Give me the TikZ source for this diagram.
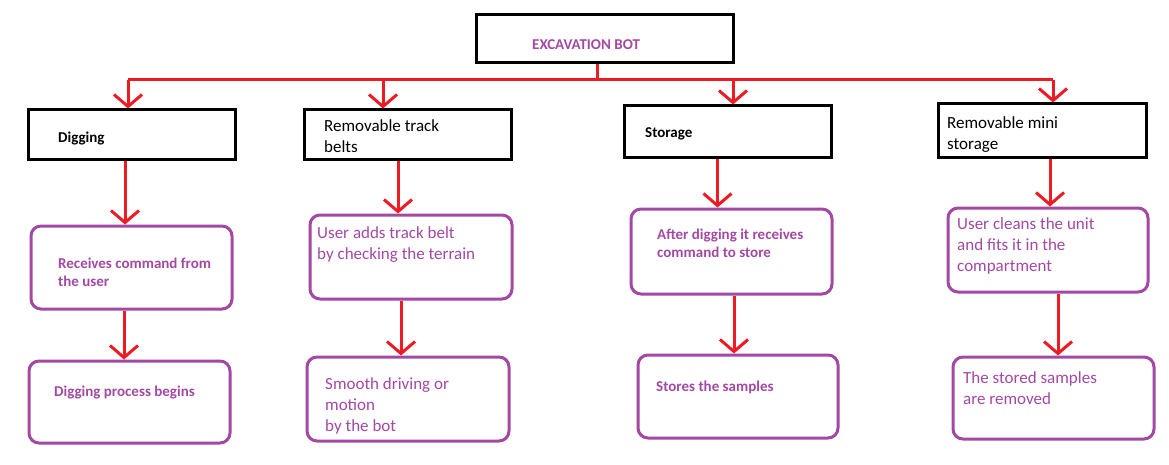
\documentclass[tikz,border=0pt]{standalone}
\usepackage{fontspec}
\setmainfont{Carlito}
\usetikzlibrary{arrows.meta}
\definecolor{pred}{HTML}{ED1C24}
\definecolor{ppur}{HTML}{A349A4}
\newcommand\firstl{\rule{0pt}{14pt}}
\begin{document}
\begin{tikzpicture}[x=1pt,y=-1pt,
  bbox/.style={draw=black, line width=3pt, inner sep=0pt},
  pbox/.style={draw=ppur, line width=3pt, rounded corners=10pt, inner sep=0pt},
  redl/.style={draw=pred, line width=3pt},
  arr/.style={draw=pred, line width=3pt, -{Straight Barb[length=12pt,width=28pt]}},
  tb/.style={anchor=north west, inner sep=0pt, align=left, font=\bfseries\fontsize{15}{18.5}\selectfont},
  tr/.style={anchor=north west, inner sep=0pt, align=left, font=\fontsize{17}{21}\selectfont},
]
\useasboundingbox (0,0) rectangle (1169,465);
\fill[white] (0,0) rectangle (1169,465);

% boxes
\node[bbox, minimum width=257pt, minimum height=48pt] (top) at (604.5,39) {};
\node[bbox, minimum width=207pt, minimum height=50pt] (dig) at (131.5,135) {};
\node[bbox, minimum width=207pt, minimum height=50pt] (trk) at (407.5,135) {};
\node[bbox, minimum width=207pt, minimum height=52pt] (sto) at (727.5,132) {};
\node[bbox, minimum width=208pt, minimum height=54pt] (mini) at (1042,131) {};

\node[pbox, minimum width=201pt, minimum height=83pt] (rc) at (131.5,267.5) {};
\node[pbox, minimum width=202pt, minimum height=84pt] (ua) at (411,257) {};
\node[pbox, minimum width=201pt, minimum height=85pt] (ad) at (731.5,251.5) {};
\node[pbox, minimum width=200pt, minimum height=84pt] (uc) at (1048,250) {};

\node[pbox, minimum width=201pt, minimum height=82pt] (dp) at (129.5,402) {};
\node[pbox, minimum width=202pt, minimum height=84pt] (sd) at (408,399) {};
\node[pbox, minimum width=200pt, minimum height=83pt] (ss) at (738,396.5) {};
\node[pbox, minimum width=201pt, minimum height=82pt] (sr) at (1053.5,398) {};

% texts (y = first baseline - 14)
\node[tb, text=ppur] (ttop) at (532,35) {\firstl EXCAVATION BOT};
\node[tb] (tdig) at (58,128) {\firstl Digging};
\node[tr] (ttrk) at (324,117) {\firstl Removable track\\belts};
\node[tb] (tsto) at (645,123) {\firstl Storage};
\node[tr] (tmini) at (947,114) {\firstl Removable mini\\storage};

\node[tb, text=ppur] (trc) at (58,254) {\firstl Receives command from\\the user};
\node[tr, text=ppur] (tua) at (317,224) {\firstl User adds track belt\\by checking the terrain};
\node[tb, text=ppur] (tad) at (657,225) {\firstl After digging it receives\\command to store};
\node[tr, text=ppur] (tuc) at (957,215) {\firstl User cleans the unit\\and fits it in the\\compartment};

\node[tb, text=ppur] (tdp) at (54,382) {\firstl Digging process begins};
\node[tr, text=ppur] (tsd) at (325,375) {\firstl Smooth driving or\\motion\\by the bot};
\node[tb, text=ppur] (tss) at (656,377) {\firstl Stores the samples};
\node[tr, text=ppur] (tsr) at (963,369) {\firstl The stored samples\\are removed};

% bus
\coordinate (b1) at (128,80);
\coordinate (b2) at (383,80);
\coordinate (b3) at (733,80);
\coordinate (b4) at (1053,80);
\draw[redl] ([xshift=-7.5pt]top.south) -- ([xshift=-7.5pt]top.south |- b1);
\draw[redl] (b1) -- (b4);
\draw[arr] (b1) -- (b1 |- dig.north);
\draw[arr] (b2) -- (b2 |- trk.north);
\draw[arr] (b3) -- (b3 |- sto.north);
\draw[arr] (b4) -- (b4 |- mini.north);

% level 1 -> level 2
\draw[arr] ([xshift=-6.5pt]dig.south) -- ([xshift=-6.5pt]dig.south |- rc.north);
\draw[arr] ([xshift=-9.5pt]trk.south) -- ([xshift=-9.5pt]trk.south |- ua.north);
\draw[arr] ([xshift=-10pt]sto.south) -- ([xshift=-10pt]sto.south |- ad.north);
\draw[arr] ([xshift=8pt]mini.south) -- ([xshift=8pt]mini.south |- uc.north);

% level 2 -> level 3
\draw[arr] ([xshift=-7.5pt]rc.south) -- ([xshift=-7.5pt]rc.south |- dp.north);
\draw[arr] ([xshift=-10pt]ua.south) -- ([xshift=-10pt]ua.south |- sd.north);
\draw[arr] ([xshift=2.5pt]ad.south) -- ([xshift=2.5pt]ad.south |- ss.north);
\draw[arr] ([xshift=10pt]uc.south) -- ([xshift=10pt]uc.south |- sr.north);
\end{tikzpicture}
\end{document}
